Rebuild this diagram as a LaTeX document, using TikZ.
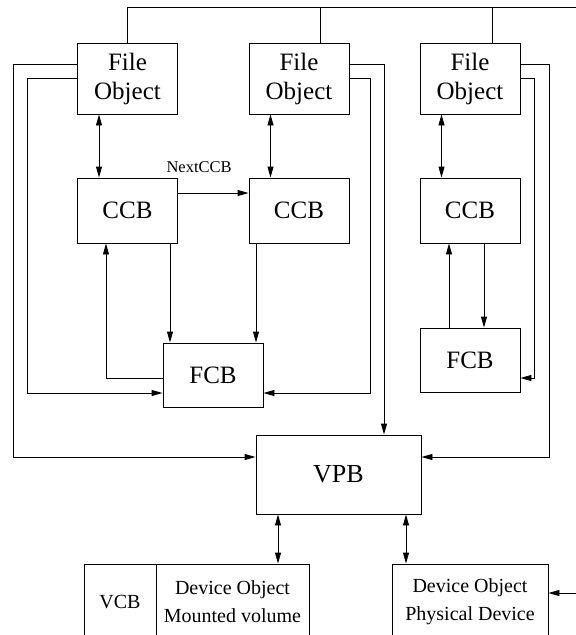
\documentclass[tikz,border=0pt]{standalone}
\usepackage{fontspec}
\setmainfont{Liberation Serif}
\usetikzlibrary{arrows.meta}

\begin{document}
\begin{tikzpicture}[%
	x=1pt,y=-1pt,line width=0.9pt,
	>={Triangle[length=11pt,width=6pt]},
	blk/.style={draw,inner sep=0pt,align=center,font=\fontsize{25}{29}\selectfont},
	fobj/.style={blk,minimum width=100pt,minimum height=71pt},
	ctrl/.style={blk,minimum width=100pt,minimum height=65pt},
	fcb/.style={blk,minimum width=100pt,minimum height=64pt},
	dev/.style={blk,minimum height=76pt,font=\fontsize{20}{28}\selectfont}]

	\useasboundingbox (0,0) rectangle (576,635);
	\clip (0,0) rectangle (576,635);

	% file objects and their cache maps
	\node[fobj]	(FO1)	at (127.5,78.5)	{File\\Object};
	\node[fobj]	(FO2)	at (299,78.5)	{File\\Object};
	\node[fobj]	(FO3)	at (470,78.5)	{File\\Object};

	\node[ctrl]	(CCB1)	at (127.5,210.5)	{CCB};
	\node[ctrl]	(CCB2)	at (299,210.5)	{CCB};
	\node[ctrl]	(CCB3)	at (470,210.5)	{CCB};

	\node[fcb]	(FCB1)	at (213,375)	{FCB};
	\node[fcb]	(FCB3)	at (470,360)	{FCB};

	\node[blk,minimum width=165pt,minimum height=79pt,font=\fontsize{26}{30}\selectfont]	(VPB)	at (338.5,474.5)	{VPB};

	% device objects, cut at the lower edge
	\node[dev,minimum width=72pt]	(VCB)	at (120,602)	{VCB};
	\node[dev,minimum width=153pt]	(Dev1)	at (232.5,602)	{Device Object\\Mounted volume};
	\node[dev,minimum width=156pt]	(Dev2)	at (470,602)	{Device Object\\Physical Device};

	\coordinate (bus) at (576,7);
	\coordinate (phys) at (576,593);

	% top bus
	\draw (FO1.north) |- (bus);
	\draw ([xshift=21pt]FO2.north) |- (bus);
	\draw ([xshift=22pt]FO3.north) |- (bus);

	\draw[<->] ([xshift=-28.5pt]FO1.south) -- ([xshift=-28.5pt]CCB1.north);
	\draw[<->] ([xshift=-28.5pt]FO2.south) -- ([xshift=-28.5pt]CCB2.north);
	\draw[<->] ([xshift=-28.5pt]FO3.south) -- ([xshift=-28.5pt]CCB3.north);

	\draw[->] ([yshift=17.5pt]CCB1.east) -- node[pos=0.3,above=17pt,font=\fontsize{16.5}{18}\selectfont] {NextCCB}
		([yshift=17.5pt]CCB2.west);

	\draw[->] ([xshift=42.5pt]CCB1.south) -- ([xshift=-43pt]FCB1.north);
	\draw[->] ([xshift=-43pt]CCB2.south) -- ([xshift=43pt]FCB1.north);
	\draw[->] ([yshift=-3pt]FCB1.west) -| ([xshift=-21.5pt]CCB1.south);
	\draw[->] ([xshift=14pt]CCB3.south) -- ([xshift=14pt]FCB3.north);
	\draw[->] ([xshift=-21pt]FCB3.north) -- ([xshift=-21pt]CCB3.south);

	% side links from the file objects
	\draw[->] ([yshift=14pt]FO1.west) -| (13,457) -- ([yshift=17.5pt]VPB.west);
	\draw[->] (FO1.west) -| (27,393) -- ([yshift=-18pt]FCB1.west);
	\draw[->] ([yshift=14pt]FO2.east) -| ([xshift=45.5pt]VPB.north);
	\draw[->] (FO2.east) -| (370,393) -- ([yshift=-18pt]FCB1.east);
	\draw[->] ([yshift=14pt]FO3.east) -| (549,457) -- ([yshift=17.5pt]VPB.east);
	\draw[->] (FO3.east) -| (534,378) -- ([yshift=-18pt]FCB3.east);

	\draw[<->] ([xshift=-60.5pt]VPB.south) -- ([xshift=45.5pt]Dev1.north);
	\draw[<->] ([xshift=67.5pt]VPB.south) -- ([xshift=-64pt]Dev2.north);
	\draw[->] (phys) -- ([yshift=9pt]Dev2.east);

\end{tikzpicture}
\end{document}
